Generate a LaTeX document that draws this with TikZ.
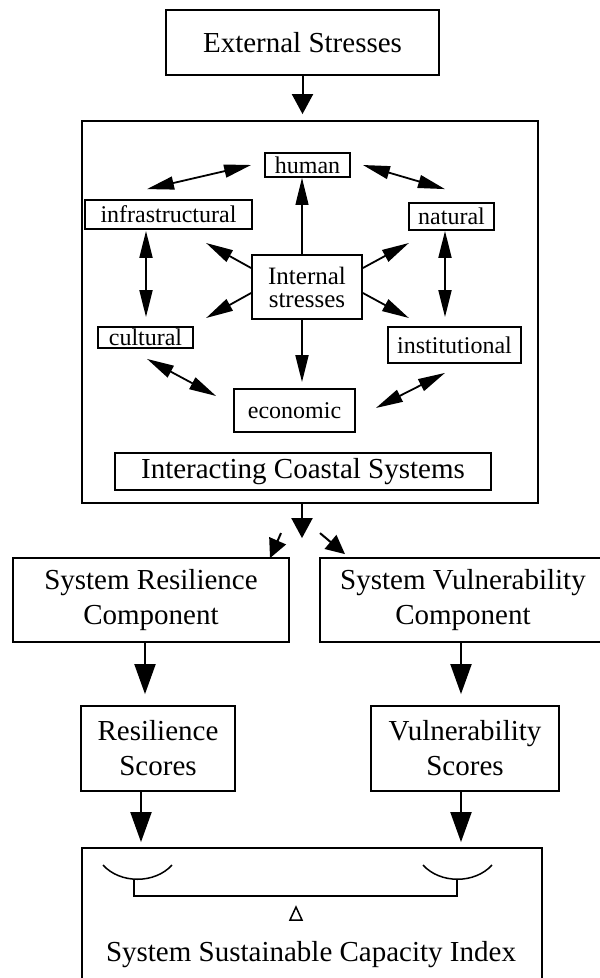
\documentclass[tikz,border=0pt]{standalone}
\usepackage{fontspec}
\setmainfont{Liberation Serif}
\usetikzlibrary{arrows.meta}

\tikzset{
  bigbox/.style={draw, line width=2.2pt, inner sep=0pt, align=center,
    font=\fontsize{29}{35}\selectfont},
  smallbox/.style={draw, line width=1.8pt, inner sep=0pt,
    font=\fontsize{24}{24}\selectfont},
  flow/.style={line width=2pt, -{Triangle[length=30pt,width=21pt]}},
  feed/.style={line width=2pt, -{Triangle[length=20pt,width=21pt]}},
  split/.style={line width=2pt, -{Triangle[length=19pt,width=18pt]}},
  push/.style={line width=1.8pt, -{Triangle[length=27pt,width=13pt]}},
  link/.style={line width=1.8pt,
    {Triangle[length=27pt,width=13pt]}-{Triangle[length=27pt,width=13pt]}},
}

\begin{document}
\begin{tikzpicture}[x=1pt,y=-1pt]
\useasboundingbox (0,0) rectangle (600,978);

% top of the chain
\node[bigbox, minimum width=273pt, minimum height=65pt] (ext) at (302.5,42.5) {External Stresses};
\node[bigbox, minimum width=456pt, minimum height=382pt] (sys) at (310,312) {};
\node[bigbox, minimum width=376pt, minimum height=37pt] (coast) at (303,471.5) {Interacting Coastal Systems};

% the ring of subsystems
\node[smallbox, minimum width=85pt, minimum height=24pt] (human) at (307.5,165) {human};
\node[smallbox, minimum width=167pt, minimum height=29pt] (infra) at (168.5,214.5) {infrastructural};
\node[smallbox, minimum width=85pt, minimum height=27pt] (natural) at (451.5,216.5) {natural};
\node[smallbox, minimum width=95pt, minimum height=21pt] (cultural) at (145.5,337.5) {cultural};
\node[smallbox, minimum width=133pt, minimum height=36pt] (inst) at (454.5,345) {institutional};
\node[smallbox, minimum width=121pt, minimum height=43pt] (econ) at (294.5,410.5) {economic};
\node[smallbox, minimum width=110pt, minimum height=64pt, align=center,
  font=\fontsize{25}{23}\selectfont] (internal) at (307,287) {Internal\\stresses};

% two components, scores and the index
\node[bigbox, minimum width=276pt, minimum height=84pt] (rescomp) at (151,600) {System Resilience\\Component};
\node[bigbox, minimum width=286pt, minimum height=84pt] (vulcomp) at (463,600) {System Vulnerability\\Component};
\node[bigbox, minimum width=154pt, minimum height=85pt] (resscore) at (158,748.5) {Resilience\\Scores};
\node[bigbox, minimum width=188pt, minimum height=85pt] (vulscore) at (465,748.5) {Vulnerability\\Scores};
\node[bigbox, minimum width=460pt, minimum height=142pt] (index) at (312,919) {};
\node[font=\fontsize{29}{35}\selectfont] (ssci) at (311,955) {System Sustainable Capacity Index};

\draw[feed] (ext.south) -- ++(0,38);

% links around the ring
\draw[link] ([shift={(-21.5,-10)}]infra.north) -- ([shift={(-13,0)}]human.west);
\draw[link] ([shift={(12,0)}]human.east) -- ([shift={(-6.5,-13)}]natural.north);
\draw[link] ([shift={(-22.5,1)}]infra.south) -- ([shift={(0.5,-9)}]cultural.north);
\draw[link] ([shift={(-6.5,0)}]natural.south) -- ([shift={(-9.5,-9)}]inst.north);
\draw[link] ([shift={(1.5,10)}]cultural.south) -- ([shift={(-17,-14.5)}]econ.west);
\draw[link] ([shift={(20,-2.5)}]econ.east) -- ([shift={(-9.5,9)}]inst.south);

% internal stresses pushing outwards
\draw[push, line width=1.1pt] ([shift={(-5,0)}]internal.north) -- ([shift={(-5.5,0)}]human.south);
\draw[push] ([shift={(0,-19)}]internal.west) -- ++(-45,-25);
\draw[push] ([shift={(0,6)}]internal.west) -- ++(-45,25);
\draw[push] ([shift={(0,-19)}]internal.east) -- ++(46,-25);
\draw[push] ([shift={(0,6)}]internal.east) -- ++(46,25);
\draw[push] ([shift={(-5,0)}]internal.south) -- ([shift={(7.5,-6)}]econ.north);

% split into the two components
\draw[feed] ([shift={(-8,0)}]sys.south) -- ++(0,34);
\draw[split] ([shift={(-29,29)}]sys.south) -- ++(-11,25);
\draw[split] ([shift={(10,29)}]sys.south) -- ++(25,21);

\draw[flow] ([shift={(-6,0)}]rescomp.south) -- ++(0,51);
\draw[flow] ([shift={(-2,0)}]vulcomp.south) -- ++(0,51);
\draw[flow] ([shift={(-17,0)}]resscore.south) -- ++(0,50);
\draw[flow] ([shift={(-4,0)}]vulscore.south) -- ++(0,50);

% the balance
\draw[line width=1.5pt] (103,865) .. controls (120,884) and (155,884) .. (172,865);
\draw[line width=1.5pt] (423,865) .. controls (440,884) and (475,884) .. (492,865);
\draw[line width=1.5pt] (134,879) -- (134,896) -- (457,896) -- (457,879);
\draw[line width=1.5pt] (290,920) -- (302,920) -- (296,907) -- cycle;
\end{tikzpicture}
\end{document}
